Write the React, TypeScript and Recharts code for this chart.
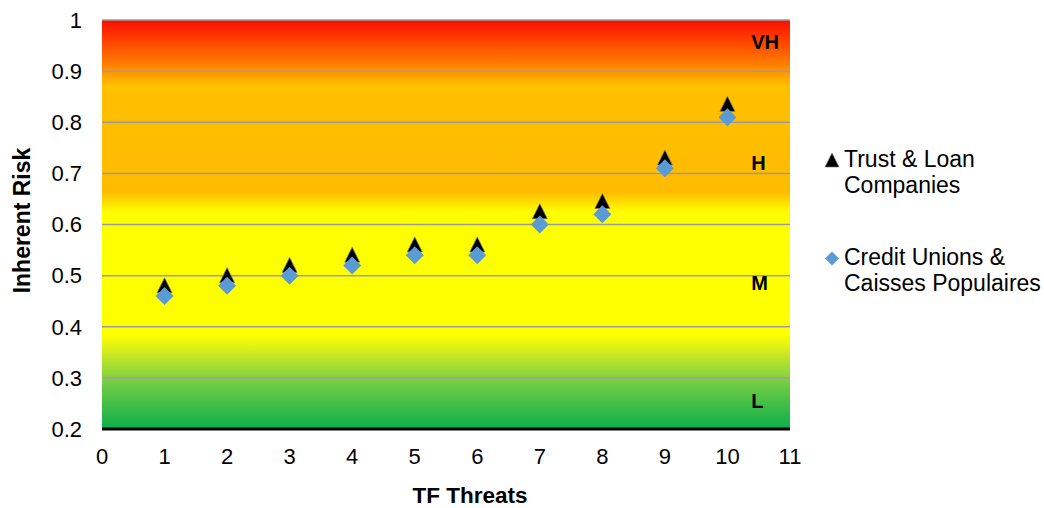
import { ScatterChart, Scatter, XAxis, YAxis, CartesianGrid, Legend, ReferenceDot } from "recharts";

const threats = [1, 2, 3, 4, 5, 6, 7, 8, 9, 10];
const trustLoan = [0.48, 0.5, 0.52, 0.54, 0.56, 0.56, 0.625, 0.645, 0.73, 0.835];
const creditUnions = [0.46, 0.48, 0.5, 0.52, 0.54, 0.54, 0.6, 0.62, 0.71, 0.81];
const xTicks = [0, 1, 2, 3, 4, 5, 6, 7, 8, 9, 10, 11];
const yTicks = [0.2, 0.3, 0.4, 0.5, 0.6, 0.7, 0.8, 0.9, 1];
const bands = [
  { name: "VH", y: 0.957 },
  { name: "H", y: 0.721 },
  { name: "M", y: 0.486 },
  { name: "L", y: 0.254 },
];

const FONT = "'Liberation Sans', Arial, sans-serif";
const BLUE = "#5b9bd5";

const tlcData = threats.map((t, i) => ({ x: t, y: trustLoan[i] }));
const cuData = threats.map((t, i) => ({ x: t, y: creditUnions[i] }));

const Triangle = (props: any) => {
  const { cx, cy } = props;
  if (cx == null || cy == null) return null;
  return (
    <polygon
      points={`${cx},${cy - 8} ${cx + 7.5},${cy + 7} ${cx - 7.5},${cy + 7}`}
      fill="#000"
      stroke="#777"
      strokeWidth={0.8}
    />
  );
};

const Diamond = (props: any) => {
  const { cx, cy } = props;
  if (cx == null || cy == null) return null;
  return <polygon points={`${cx},${cy - 9} ${cx + 9},${cy} ${cx},${cy + 9} ${cx - 9},${cy}`} fill={BLUE} />;
};

// legend drawn as a small svg, two wrapped entries
const LegendBox = () => (
  <svg width={226} height={170} style={{ display: "block" }}>
    <polygon points="14,19 21,33 7,33" fill="#000" stroke="#777" strokeWidth={0.6} />
    <text x={26} y={33} fontSize={23} fontFamily={FONT} fill="#000">Trust &amp; Loan</text>
    <text x={26} y={59} fontSize={23} fontFamily={FONT} fill="#000">Companies</text>
    <polygon points="14,117.5 21,124.5 14,131.5 7,124.5" fill={BLUE} />
    <text x={26} y={131} fontSize={23} fontFamily={FONT} fill="#000">Credit Unions &amp;</text>
    <text x={26} y={157} fontSize={23} fontFamily={FONT} fill="#000">Caisses Populaires</text>
  </svg>
);

export default function App() {
  return (
    <div style={{ position: "absolute", left: 0, top: 0, fontFamily: FONT }}>
      <ScatterChart width={1044} height={508} margin={{ top: 20, right: 28, bottom: 0, left: 0 }}>
        <defs>
          <linearGradient id="riskGrad" x1="0" y1="0" x2="0" y2="1">
            <stop offset="0%" stopColor="#ff0d00" />
            <stop offset="11%" stopColor="#ff8000" />
            <stop offset="16%" stopColor="#ffc000" />
            <stop offset="42%" stopColor="#ffbb00" />
            <stop offset="47%" stopColor="#ffff00" />
            <stop offset="77%" stopColor="#ffff00" />
            <stop offset="83%" stopColor="#bce32c" />
            <stop offset="89%" stopColor="#6fcc45" />
            <stop offset="100%" stopColor="#0cae4a" />
          </linearGradient>
        </defs>
        <CartesianGrid vertical={false} fill="url(#riskGrad)" fillOpacity={1} stroke="#9c9c9c" strokeWidth={1.5} />
        <XAxis
          type="number"
          dataKey="x"
          domain={[0, 11]}
          ticks={xTicks}
          interval={0}
          height={79}
          tickLine={false}
          tickMargin={13}
          axisLine={{ stroke: "#000", strokeWidth: 3 }}
          tick={{ fontSize: 22, fill: "#000", fontFamily: FONT }}
          label={(p: any) => {
            const vb = p.viewBox;
            return (
              <text x={470} y={vb.y + 74} textAnchor="middle" fontSize={22.5} fontWeight="bold" fontFamily={FONT} fill="#000">
                TF Threats
              </text>
            );
          }}
        />
        <YAxis
          type="number"
          dataKey="y"
          domain={[0.2, 1]}
          ticks={yTicks}
          interval={0}
          width={102}
          tickLine={false}
          axisLine={false}
          tickMargin={14}
          tickFormatter={(v: number) => String(+v.toFixed(1))}
          tick={{ fontSize: 22, fill: "#000", fontFamily: FONT }}
          label={(p: any) => {
            const vb = p.viewBox;
            const cy = vb.y + vb.height / 2 - 4;
            return (
              <text x={22} y={cy} textAnchor="middle" dominantBaseline="central" transform={`rotate(-90, 22, ${cy})`} fontSize={23} fontWeight="bold" fontFamily={FONT} fill="#000">
                Inherent Risk
              </text>
            );
          }}
        />
        {bands.map((b) => (
          <ReferenceDot
            key={b.name}
            x={10.38}
            y={b.y}
            r={0}
            stroke="none"
            label={{ value: b.name, position: "right", offset: 0, fontSize: 20, fontWeight: "bold", fill: "#000", fontFamily: FONT }}
          />
        ))}
        <Legend
          layout="vertical"
          align="right"
          verticalAlign="top"
          content={() => <LegendBox />}
          wrapperStyle={{ left: 818, top: 134, width: 226 }}
        />
        <Scatter name="Trust & Loan Companies" data={tlcData} shape={Triangle} isAnimationActive={false} />
        <Scatter name="Credit Unions & Caisses Populaires" data={cuData} shape={Diamond} isAnimationActive={false} />
      </ScatterChart>
    </div>
  );
}
